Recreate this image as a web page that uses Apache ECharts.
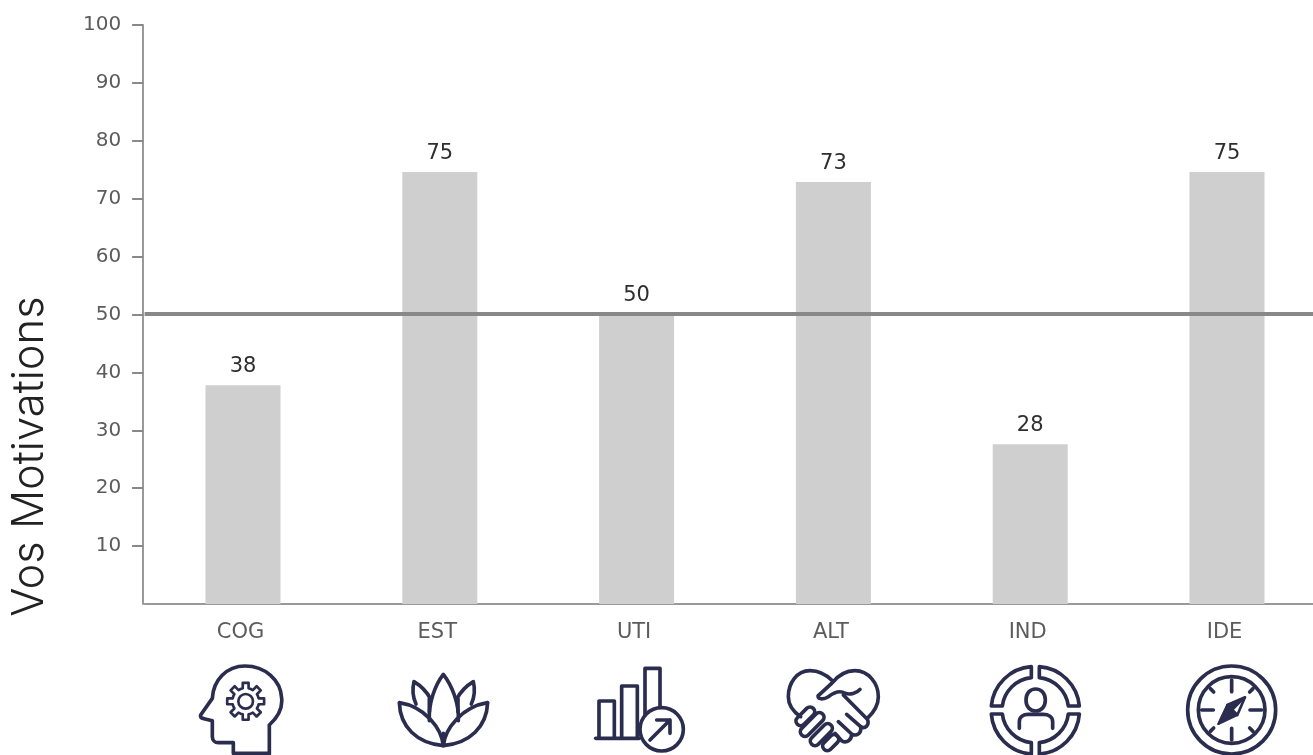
<!DOCTYPE html>
<html>
<head>
<meta charset="utf-8">
<title>Vos Motivations</title>
<script src="https://cdn.jsdelivr.net/npm/echarts@6/dist/echarts.min.js"></script>
<style>
    html, body { margin: 0; padding: 0; background: #fff; overflow: hidden; }
    #chart { width: 1313px; height: 755px; }
</style>
</head>
<body>
<div id="chart"></div>
<script>
const categories = ["COG", "EST", "UTI", "ALT", "IND", "IDE"];
const scores = [37.8, 74.6, 50, 72.9, 27.6, 74.6];
const yTicks = [10, 20, 30, 40, 50, 60, 70, 80, 90, 100];
const threshold = 50.2;
const yTitle = "Vos Motivations";

const ICON_COLOR = "#2b2d4f";

// small path helpers for the icons, all icons are drawn at 3x and scaled down
function capsule(x1, y1, x2, y2, r) {
    const len = Math.hypot(x2 - x1, y2 - y1);
    const nx = -(y2 - y1) / len * r, ny = (x2 - x1) / len * r;
    return `M${x1 + nx},${y1 + ny}L${x2 + nx},${y2 + ny}A${r},${r} 0 0 0 ${x2 - nx},${y2 - ny}L${x1 - nx},${y1 - ny}A${r},${r} 0 0 0 ${x1 + nx},${y1 + ny}Z`;
}
function circle(cx, cy, r) {
    return `M${cx - r},${cy}A${r},${r} 0 1 1 ${cx + r},${cy}A${r},${r} 0 1 1 ${cx - r},${cy}Z`;
}
function gear(cx, cy, rOut, rIn, teeth) {
    let d = "";
    const step = Math.PI * 2 / teeth;
    for (let i = 0; i < teeth; i++) {
        const a = i * step - Math.PI / 2;
        const pts = [[rIn, a - step * 0.5], [rIn, a - step * 0.28], [rOut, a - step * 0.2], [rOut, a + step * 0.2], [rIn, a + step * 0.28]];
        pts.forEach((p, j) => {
            d += (i === 0 && j === 0 ? "M" : "L") + (cx + p[0] * Math.cos(p[1])) + "," + (cy + p[0] * Math.sin(p[1]));
        });
    }
    return d + "Z";
}

// origin = top left of the 3x drawing, in page pixels
const icons = [
    { x: 180, y: 600, parts: [
        { d: "M268,462L268,375C295,350 308,325 305,295C303,240 255,198 195,198C140,198 100,240 97,295L62,345C60,352 65,355 72,356L97,362L97,410C97,420 105,428 115,428L160,428L160,460L268,460" },
        { d: gear(197, 304, 56, 40, 8), w: 8 },
        { d: circle(197, 304, 22), w: 8 }
    ]},
    { x: 180, y: 600, parts: [
        { d: "M748,362C745,310 765,255 790,223C815,255 838,310 835,362" },
        { d: "M708,312C698,290 697,265 702,245C722,257 740,275 752,297M748,295L748,335" },
        { d: "M874,312C884,290 885,265 880,245C860,257 842,275 830,297M834,295L834,335" },
        { d: "M790,437C785,385 735,320 658,308C660,380 710,430 790,437" },
        { d: "M790,437C795,385 847,320 923,308C920,380 870,430 790,437M790,400L790,437" }
    ]},
    { x: 180, y: 600, parts: [
        { d: "M1257,412L1257,303L1303,303L1303,412" },
        { d: "M1325,412L1325,258L1372,258L1372,412" },
        { d: "M1395,345L1395,205L1440,205L1440,322" },
        { d: "M1247,415L1378,415" },
        { d: circle(1445, 388, 65) },
        { d: "M1410,420L1470,360M1430,360L1470,360L1470,400" }
    ]},
    { x: 760, y: 600, parts: [
        { d: "M218,243C195,220 170,212 150,212C110,212 85,250 85,290C85,315 100,335 122,350" },
        { d: "M175,287L215,250C235,225 260,212 285,212C325,212 355,250 355,290C355,315 340,338 322,355" },
        { d: "M175,287C170,298 190,300 205,290C225,275 240,270 255,280C270,285 290,280 300,268" },
        { d: "M250,285L322,358C330,375 315,388 302,380L260,343M302,380C305,400 290,410 275,402L235,365M275,402C275,420 260,432 245,422L225,400" },
        { d: capsule(150, 335, 122, 363, 14) },
        { d: capsule(178, 352, 135, 395, 14) },
        { d: capsule(203, 385, 165, 423, 14) },
        { d: capsule(222, 418, 202, 438, 14) }
    ]},
    { x: 760, y: 600, parts: [
        { d: "M838,200A130,130 0 0 1 958,318L925,318A98,98 0 0 0 838,233Z" },
        { d: "M814,200A130,130 0 0 0 694,318L727,318A98,98 0 0 1 814,233Z" },
        { d: "M838,462A130,130 0 0 0 958,342L925,342A98,98 0 0 1 838,428Z" },
        { d: "M814,462A130,130 0 0 1 694,342L727,342A98,98 0 0 0 814,428Z" },
        { d: "M798,300C798,280 810,267 827,267C844,267 856,280 856,300C856,320 844,333 827,333C810,333 798,320 798,300Z" },
        { d: "M778,385L778,365C778,350 790,343 805,343L850,343C865,343 878,350 878,365L878,385" }
    ]},
    { x: 760, y: 600, parts: [
        { d: circle(1415, 330, 132) },
        { d: circle(1415, 330, 100) },
        { d: "M1415,240L1415,275M1415,385L1415,420M1325,330L1360,330M1470,330L1505,330" },
        { d: "M1351,266L1361,276M1479,266L1469,276M1351,394L1361,384M1479,394L1469,384" },
        { d: "M1455,292L1375,372L1402,315Z", fill: ICON_COLOR, w: 6 },
        { d: "M1375,372L1432,345L1402,315Z", fill: ICON_COLOR, w: 6 },
        { d: "M1455,292L1432,345L1402,315Z", w: 8 }
    ]}
];

function renderIcon(params) {
    const icon = icons[params.dataIndex];
    return {
        type: "group",
        x: icon.x,
        y: icon.y,
        scaleX: 1 / 3,
        scaleY: 1 / 3,
        children: icon.parts.map(p => ({
            type: "path",
            shape: { pathData: p.d },
            style: {
                fill: p.fill || "none",
                stroke: ICON_COLOR,
                lineWidth: p.w || 11,
                lineJoin: "round",
                lineCap: "round"
            }
        }))
    };
}

const chart = echarts.init(document.getElementById("chart"), null, { renderer: "canvas" });
chart.setOption({
    animation: false,
    backgroundColor: "#fff",
    textStyle: { fontFamily: "DejaVu Sans" },
    grid: { left: 144.6, top: 25, width: 1180.8, bottom: 151, containLabel: false, outerBoundsMode: "none" },
    xAxis: {
        type: "category",
        data: categories,
        axisLine: { lineStyle: { color: "#999", width: 2 } },
        axisTick: { show: false },
        axisLabel: { color: "#5c5c5c", fontSize: 21, margin: 18, padding: [0, 5, 0, 0] }
    },
    yAxis: {
        type: "value",
        min: 0,
        max: 100,
        interval: 10,
        offset: 1.5,
        splitLine: { show: false },
        axisLine: { show: true, onZero: false, lineStyle: { color: "#999", width: 2 } },
        axisTick: { show: true, length: 11, customValues: yTicks, lineStyle: { color: "#888", width: 2 } },
        axisLabel: { color: "#5c5c5c", fontSize: 20, margin: 22, customValues: yTicks }
    },
    series: [
        {
            name: "Motivations",
            type: "bar",
            data: scores,
            barWidth: 75,
            itemStyle: { color: "#cfcfcf" },
            label: {
                show: true,
                position: "top",
                distance: 8,
                color: "#2e2e2e",
                fontSize: 21,
                formatter: p => Math.round(p.value)
            },
            markLine: {
                silent: true,
                symbol: "none",
                label: { show: false },
                lineStyle: { color: "#888", width: 4, type: "solid" },
                data: [{ yAxis: threshold }]
            }
        },
        {
            type: "custom",
            data: categories.map((c, i) => i),
            renderItem: renderIcon,
            silent: true,
            clip: false,
            tooltip: { show: false }
        }
    ],
    graphic: [
        {
            type: "text",
            x: 30,
            y: 456.5,
            rotation: Math.PI / 2,
            style: {
                text: yTitle,
                font: "300 43.5px Inter",
                fill: "#222",
                textAlign: "center",
                textVerticalAlign: "middle"
            }
        }
    ]
});
</script>
</body>
</html>
